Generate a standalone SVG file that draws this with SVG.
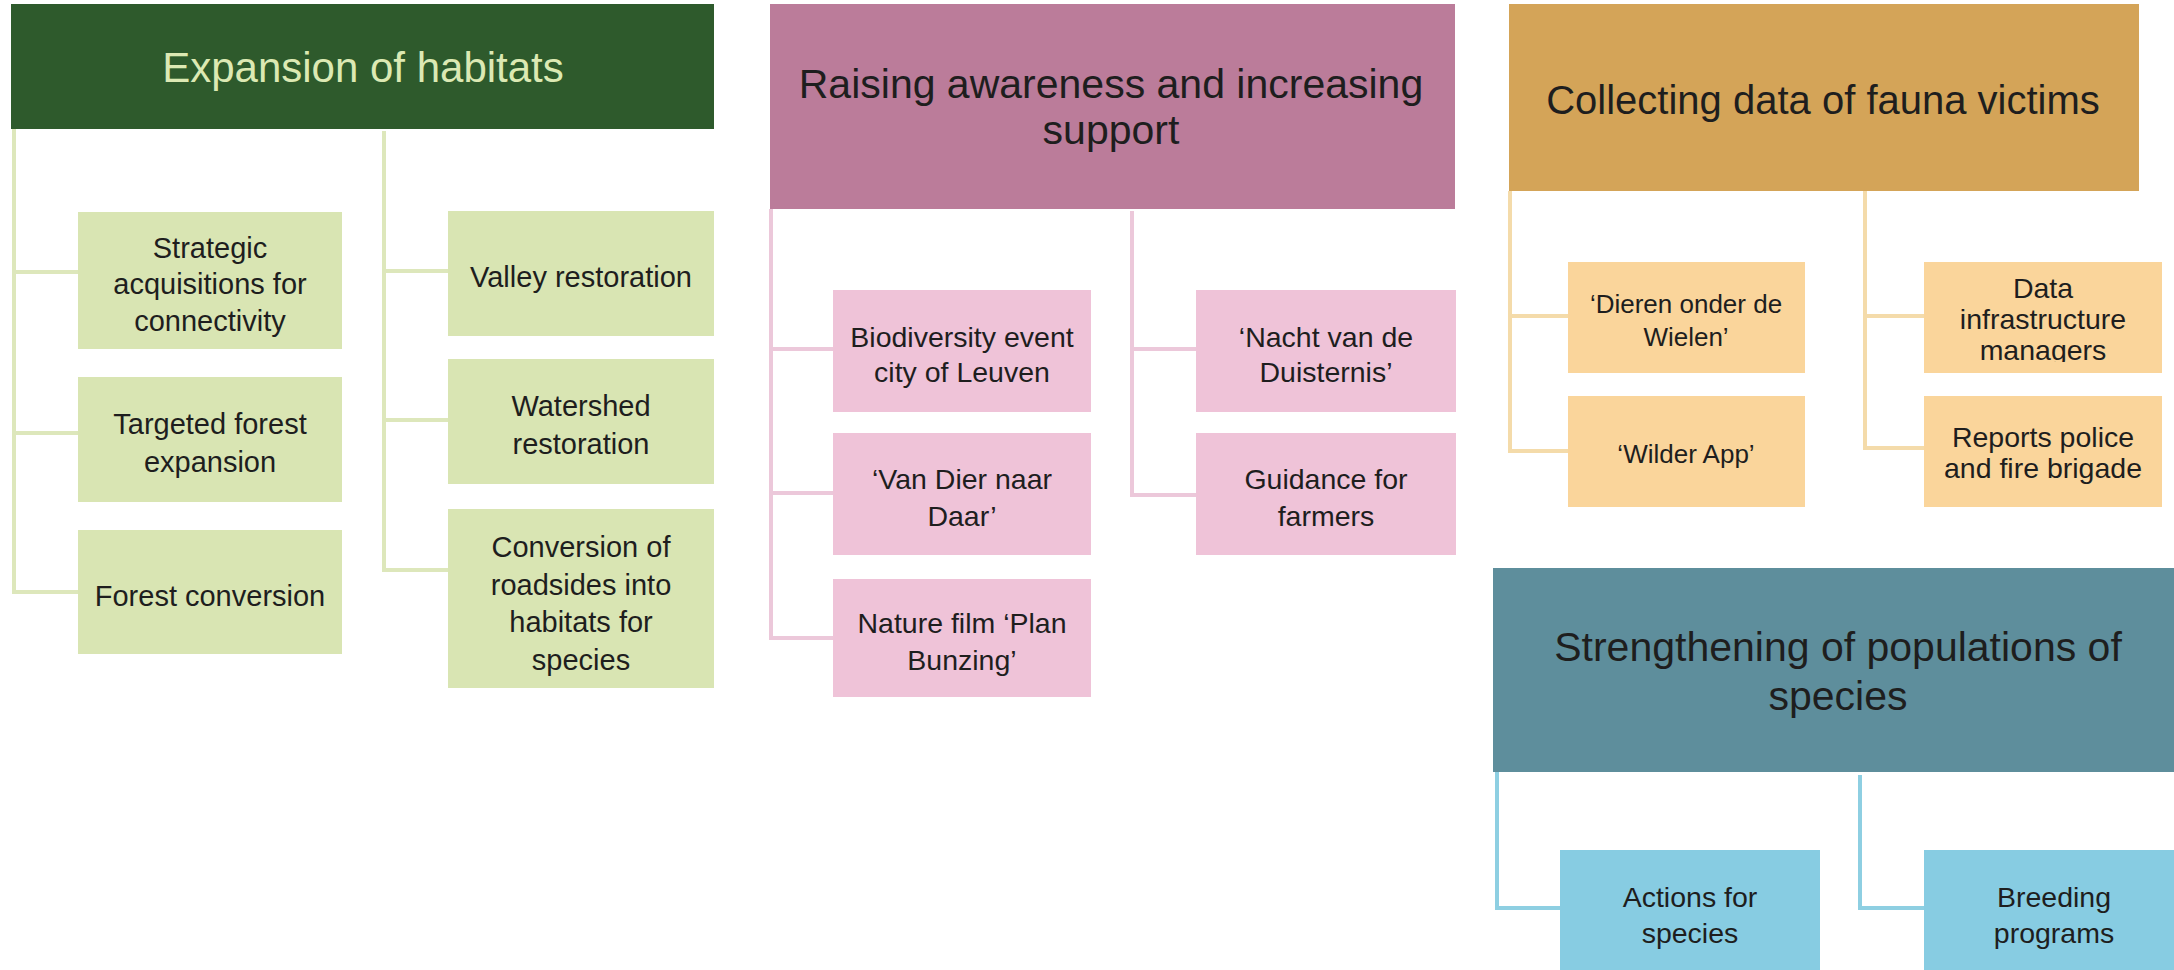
<svg xmlns="http://www.w3.org/2000/svg" width="2174" height="970" viewBox="0 0 2174 970">
<defs>
<style>
text{font-family:"Liberation Sans",Arial,sans-serif;text-anchor:middle;fill:#1e1e1e}
.h{font-size:40px}
.t{font-size:28.5px}
.s{font-size:26px}
.g1{fill:#2e5a2c}.g2{fill:#d9e5b3}
.p1{fill:#bb7c9a}.p2{fill:#efc3d8}
.o1{fill:#d4a458}.o2{fill:#fad59b}
.b1{fill:#5e8e9c}.b2{fill:#87cce2}
.c{fill:none;stroke-width:4}
.cg{stroke:#dde7bb}.cp{stroke:#ecc8da}.co{stroke:#f4dbaa}.cb{stroke:#8ecfe2}
</style>
<clipPath id="clipData"><rect x="1924" y="262" width="238" height="100"/></clipPath>
</defs>
<rect width="2174" height="970" fill="#ffffff"/>
<g id="connectors">
<path class="c cg" d="M14,129V594M14,272H78M14,433H78M14,592H78M384,131V572M384,271H448M384,420H448M384,570H448"/>
<path class="c cp" d="M771,209V640M771,349H833M771,493H833M771,638H833M1132,211V497M1132,349H1196M1132,495H1196"/>
<path class="c co" d="M1510,191V453M1510,316H1568M1510,451H1568M1865,187V450M1865,316H1924M1865,448H1924"/>
<path class="c cb" d="M1497,772V910M1497,908H1560M1860,775V910M1860,908H1924"/>
</g>
<g id="h-expansion"><rect class="g1" x="11" y="4" width="703" height="125"/><text class="h" x="363" y="82" style="fill:#dce9b3;font-size:42px">Expansion of habitats</text></g>
<g id="n-strategic"><rect class="g2" x="78" y="212" width="264" height="137"/><text class="t" x="210" y="258" style="font-size:29px">Strategic</text><text class="t" x="210" y="294" style="font-size:29px">acquisitions for</text><text class="t" x="210" y="331" style="font-size:29px">connectivity</text></g>
<g id="n-targeted"><rect class="g2" x="78" y="377" width="264" height="125"/><text class="t" x="210" y="434" style="font-size:29px">Targeted forest</text><text class="t" x="210" y="472" style="font-size:29px">expansion</text></g>
<g id="n-forestconv"><rect class="g2" x="78" y="530" width="264" height="124"/><text class="t" x="210" y="606" style="font-size:29px">Forest conversion</text></g>
<g id="n-valley"><rect class="g2" x="448" y="211" width="266" height="125"/><text class="t" x="581" y="287" style="font-size:29px">Valley restoration</text></g>
<g id="n-watershed"><rect class="g2" x="448" y="359" width="266" height="125"/><text class="t" x="581" y="416" style="font-size:29px">Watershed</text><text class="t" x="581" y="454" style="font-size:29px">restoration</text></g>
<g id="n-roadsides"><rect class="g2" x="448" y="509" width="266" height="179"/><text class="t" x="581" y="557" style="font-size:29px">Conversion of</text><text class="t" x="581" y="595" style="font-size:29px">roadsides into</text><text class="t" x="581" y="632" style="font-size:29px">habitats for</text><text class="t" x="581" y="670" style="font-size:29px">species</text></g>

<g id="h-awareness"><rect class="p1" x="770" y="4" width="685" height="205"/><text class="h" x="1111" y="98" style="font-size:41px">Raising awareness and increasing</text><text class="h" x="1111" y="144" style="font-size:41px">support</text></g>
<g id="n-biodiv"><rect class="p2" x="833" y="290" width="258" height="122"/><text class="t" x="962" y="347">Biodiversity event</text><text class="t" x="962" y="382">city of Leuven</text></g>
<g id="n-vandier"><rect class="p2" x="833" y="433" width="258" height="122"/><text class="t" x="962" y="489">‘Van Dier naar</text><text class="t" x="962" y="526">Daar’</text></g>
<g id="n-naturefilm"><rect class="p2" x="833" y="579" width="258" height="118"/><text class="t" x="962" y="633">Nature film ‘Plan</text><text class="t" x="962" y="670">Bunzing’</text></g>
<g id="n-nacht"><rect class="p2" x="1196" y="290" width="260" height="122"/><text class="t" x="1326" y="347">‘Nacht van de</text><text class="t" x="1326" y="382">Duisternis’</text></g>
<g id="n-guidance"><rect class="p2" x="1196" y="433" width="260" height="122"/><text class="t" x="1326" y="489">Guidance for</text><text class="t" x="1326" y="526">farmers</text></g>

<g id="h-collecting"><rect class="o1" x="1509" y="4" width="630" height="187"/><text class="h" x="1823" y="114">Collecting data of fauna victims</text></g>
<g id="n-dieren"><rect class="o2" x="1568" y="262" width="237" height="111"/><text class="s" x="1686" y="313">‘Dieren onder de</text><text class="s" x="1686" y="346">Wielen’</text></g>
<g id="n-wilder"><rect class="o2" x="1568" y="396" width="237" height="111"/><text class="s" x="1686" y="463">‘Wilder App’</text></g>
<g id="n-datainfra"><rect class="o2" x="1924" y="262" width="238" height="111"/><g clip-path="url(#clipData)"><text class="t" x="2043" y="298">Data</text><text class="t" x="2043" y="329">infrastructure</text><text class="t" x="2043" y="360">managers</text></g></g>
<g id="n-reports"><rect class="o2" x="1924" y="396" width="238" height="111"/><text class="t" x="2043" y="447">Reports police</text><text class="t" x="2043" y="478">and fire brigade</text></g>

<g id="h-strengthening"><rect class="b1" x="1493" y="568" width="681" height="204"/><text class="h" x="1838" y="661" style="font-size:41px">Strengthening of populations of</text><text class="h" x="1838" y="710" style="font-size:41px">species</text></g>
<g id="n-actions"><rect class="b2" x="1560" y="850" width="260" height="130"/><text class="t" x="1690" y="907">Actions for</text><text class="t" x="1690" y="943">species</text></g>
<g id="n-breeding"><rect class="b2" x="1924" y="850" width="260" height="130"/><text class="t" x="2054" y="907">Breeding</text><text class="t" x="2054" y="943">programs</text></g>
</svg>
